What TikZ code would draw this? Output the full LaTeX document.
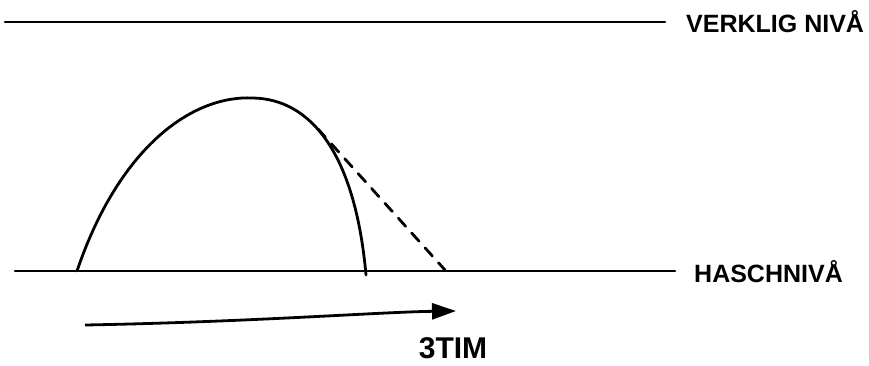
\documentclass[tikz,border=0pt]{standalone}
\usepackage{fontspec}
\setmainfont{Liberation Sans}
\usetikzlibrary{arrows.meta, positioning}

\begin{document}
\begin{tikzpicture}[
    x=1pt, y=-1pt,
    level/.style={line width=2.6pt, line cap=round},
    hump/.style={line width=2.8pt, line cap=round},
    guess/.style={line width=2.8pt, dash pattern=on 11pt off 9pt, line cap=round},
    timearrow/.style={line width=2.8pt, -{Triangle[length=24pt, width=16pt]}},
    lbl/.style={font=\fontsize{25}{27}\selectfont\bfseries, inner sep=0pt, anchor=west}
]
\useasboundingbox (0,0) rectangle (869,365);
% levels
\coordinate (topL) at (5,22);
\coordinate (topR) at (665,22);
\coordinate (botL) at (15,271);
\coordinate (botR) at (675,271);
\draw[level] (topL) -- (topR);
\draw[level] (botL) -- (botR);
\node[lbl] (verklig) at (686,22) {VERKLIG NIVÅ};
\node[lbl] (hasch) at (694,272) {HASCHNIVÅ};
% curve
\coordinate (start) at (77,271);
\coordinate (peak) at (253,98);
\coordinate (split) at (318,129);
\coordinate (stop) at (366,275);
\coordinate (stopB) at (445,270);
\draw[hump] (start) .. controls (118,150) and (190,95) .. (peak)
    .. controls (310,99) and (355,152) .. (stop);
\draw[guess] (split) -- (stopB);
% time
\coordinate (t0) at (85,325);
\coordinate (t1) at (456,311);
\draw[timearrow] (t0) .. controls (250,322) and (380,312) .. (t1);
\node[lbl, anchor=center, font=\fontsize{30}{32}\selectfont\bfseries] (tim) at (453,348) {3TIM};
\end{tikzpicture}
\end{document}
